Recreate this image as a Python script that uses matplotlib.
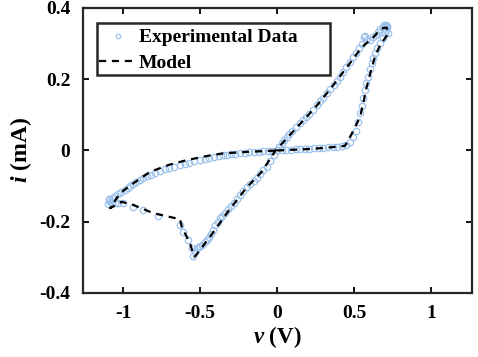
import matplotlib
matplotlib.use('Agg')
import matplotlib.pyplot as plt
from matplotlib.patches import Rectangle

# measured data: v (V), i (mA), in sweep order
v_data = [0.00, 0.03, 0.06, 0.09, 0.12, 0.15, 0.18, 0.21, 0.24, 0.27, 0.30, 0.33, 0.36, 0.39, 0.42, 0.45,
          0.47, 0.49, 0.51, 0.525, 0.54, 0.55, 0.56, 0.57, 0.58, 0.593, 0.605, 0.615, 0.625, 0.636, 0.65,
          0.669, 0.685, 0.70, 0.71, 0.715, 0.712, 0.705, 0.70, 0.695, 0.69, 0.72,
          0.67, 0.658, 0.64, 0.62, 0.60, 0.58, 0.571, 0.565, 0.55, 0.53, 0.51, 0.495, 0.47, 0.45, 0.43,
          0.409, 0.39, 0.37, 0.345, 0.323, 0.30, 0.28, 0.26, 0.236, 0.21, 0.19, 0.17, 0.149, 0.125, 0.10,
          0.08, 0.063, 0.045, 0.03, 0.015, 0.0,
          -0.02, -0.045, -0.067, -0.09, -0.11, -0.13, -0.15, -0.175, -0.197, -0.22, -0.24, -0.26, -0.28,
          -0.30, -0.316, -0.335, -0.355, -0.37, -0.385, -0.40, -0.414, -0.43, -0.445, -0.457, -0.47,
          -0.485, -0.50, -0.51, -0.521, -0.53, -0.543,
          -0.554, -0.576, -0.612, -0.63,
          -0.77, -0.868, -0.933, -0.998, -1.03, -1.052, -1.07, -1.085, -1.09, -1.095, -1.09,
          -1.07, -1.05, -1.03, -1.01, -0.99, -0.97, -0.955, -0.935, -0.915, -0.89, -0.868, -0.845, -0.82,
          -0.79, -0.76, -0.73, -0.70, -0.67, -0.63, -0.60, -0.57, -0.54, -0.50, -0.47, -0.44, -0.41,
          -0.38, -0.35, -0.327, -0.30, -0.27, -0.24, -0.21, -0.18, -0.15, -0.12, -0.09, -0.06, -0.03]
i_data = [0.000, 0.001, 0.002, 0.002, 0.003, 0.004, 0.004, 0.005, 0.006, 0.007, 0.008, 0.009, 0.010, 0.011, 0.013, 0.016,
          0.025, 0.037, 0.055, 0.080, 0.105, 0.125, 0.148, 0.170, 0.190, 0.207, 0.228, 0.245, 0.260, 0.273, 0.287,
          0.301, 0.316, 0.329, 0.338, 0.346, 0.350, 0.352, 0.350, 0.351, 0.348, 0.330,
          0.340, 0.334, 0.325, 0.318, 0.310, 0.310, 0.320, 0.318, 0.300, 0.287, 0.275, 0.263, 0.248, 0.234, 0.220,
          0.207, 0.196, 0.185, 0.172, 0.160, 0.148, 0.138, 0.128, 0.114, 0.103, 0.094, 0.085, 0.076, 0.066, 0.055,
          0.046, 0.039, 0.029, 0.020, 0.010, 0.000,
          -0.012, -0.030, -0.045, -0.056, -0.067, -0.078, -0.086, -0.094, -0.102, -0.114, -0.124, -0.135, -0.146,
          -0.155, -0.164, -0.175, -0.183, -0.190, -0.200, -0.210, -0.223, -0.234, -0.243, -0.251, -0.258,
          -0.265, -0.268, -0.272, -0.275, -0.285, -0.296,
          -0.275, -0.251, -0.228, -0.210,
          -0.184, -0.167, -0.158, -0.148, -0.146, -0.148, -0.148, -0.144, -0.140, -0.150, -0.135,
          -0.132, -0.128, -0.122, -0.116, -0.110, -0.105, -0.100, -0.095, -0.089, -0.083, -0.078, -0.073, -0.068,
          -0.063, -0.058, -0.053, -0.049, -0.045, -0.041, -0.037, -0.034, -0.030, -0.027, -0.024, -0.021, -0.018,
          -0.016, -0.014, -0.013, -0.011, -0.009, -0.007, -0.006, -0.005, -0.004, -0.003, -0.002, -0.001, -0.001]

# model curve
v_model = [0.0, 0.1, 0.2, 0.3, 0.4, 0.44, 0.463, 0.5, 0.539, 0.56, 0.582, 0.61, 0.636, 0.67, 0.712, 0.72,
           0.71, 0.69, 0.66, 0.63, 0.55, 0.45, 0.35, 0.25, 0.15, 0.05, -0.01,
           -0.1, -0.2, -0.316, -0.435, -0.53, -0.539,
           -0.565, -0.619, -0.63, -0.803, -0.933, -1.01, -1.084,
           -1.02, -0.933, -0.825, -0.7, -0.586, -0.45, -0.348, -0.2, 0.0]
i_model = [0.0, 0.002, 0.004, 0.007, 0.011, 0.013, 0.029, 0.060, 0.095, 0.135, 0.179, 0.225, 0.264, 0.297, 0.322, 0.336,
           0.345, 0.344, 0.335, 0.320, 0.290, 0.232, 0.175, 0.122, 0.075, 0.028, 0.0,
           -0.060, -0.105, -0.170, -0.242, -0.296, -0.298,
           -0.261, -0.214, -0.193, -0.176, -0.153, -0.144, -0.162,
           -0.120, -0.092, -0.060, -0.040, -0.027, -0.015, -0.008, -0.004, 0.0]

xticks = [-1, -0.5, 0, 0.5, 1]
xtick_labels = ['-1', '-0.5', '0', '0.5', '1']
yticks = [-0.4, -0.2, 0, 0.2, 0.4]
ytick_labels = ['-0.4', '-0.2', '0', '0.2', '0.4']

plt.rcParams['font.family'] = ['Liberation Serif', 'DejaVu Serif']
plt.rcParams['font.weight'] = 'bold'
plt.rcParams['axes.unicode_minus'] = False
plt.rcParams['mathtext.fontset'] = 'custom'
plt.rcParams['mathtext.it'] = 'Liberation Serif:bold:italic'
plt.rcParams['mathtext.rm'] = 'Liberation Serif:bold'

fig = plt.figure(figsize=(4.78, 3.57), dpi=100)
ax = fig.add_axes([0.1736, 0.1793, 0.8138, 0.7983])

ax.plot(v_data, i_data, 'o', ls='none', mfc='none', mec='#9cc2ec', ms=4.6, mew=0.9,
        label='Experimental Data', zorder=2)
ax.plot(v_model, i_model, '--', color='black', lw=1.6, dashes=(3.2, 2.6), label='Model', zorder=3)

ax.set_xlim(-1.26, 1.265)
ax.set_ylim(-0.4, 0.4)
ax.set_xticks(xticks)
ax.set_xticklabels(xtick_labels)
ax.set_yticks(yticks)
ax.set_yticklabels(ytick_labels)
ax.tick_params(direction='in', length=4, width=1.3, labelsize=14, top=True, right=True, pad=9)
for s in ax.spines.values():
    s.set_linewidth(1.6)
    s.set_color('#262626')

ax.set_xlabel('$v$ (V)', fontsize=16.5, fontweight='bold', labelpad=1)
ax.set_ylabel('$i$ (mA)', fontsize=17, fontweight='bold', labelpad=4)

# legend box drawn by hand (wider on the right, like the original)
ax.add_patch(Rectangle((0.036, 0.765), 0.6, 0.184, transform=ax.transAxes, facecolor='white',
                       edgecolor='#262626', lw=1.8, zorder=4, clip_on=False))
leg = ax.legend(loc='upper left', bbox_to_anchor=(0.034, 0.937), borderaxespad=0, frameon=False,
                fontsize=14, handlelength=1.95, handletextpad=0.1, borderpad=0.15, labelspacing=0.4,
                markerscale=0.7)
leg.set_zorder(5)
for t in leg.get_texts():
    t.set_fontweight('bold')

fig.savefig('out.png', dpi=100)
